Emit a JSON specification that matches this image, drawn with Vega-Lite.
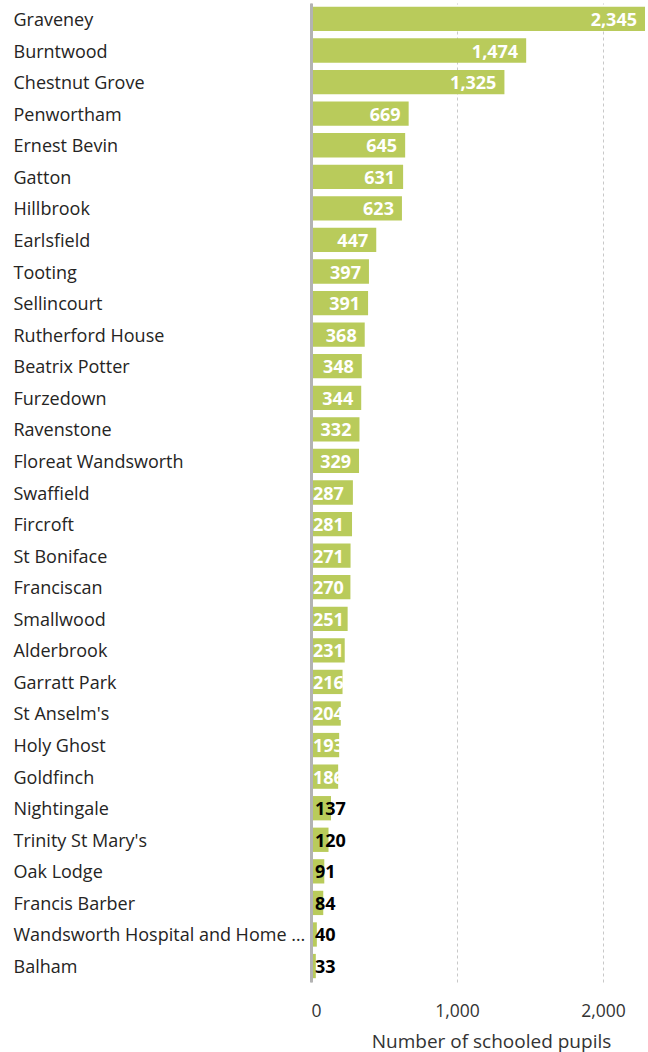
{
  "$schema": "https://vega.github.io/schema/vega-lite/v6.json",
  "width": 334,
  "height": 979,
  "padding": {"left": 13, "top": 3, "right": 0, "bottom": 4},
  "autosize": {"type": "pad"},
  "config": {"view": {"stroke": null}, "font": "Open Sans"},
  "data": {
    "values": [
      {"school": "Graveney", "pupils": 2345},
      {"school": "Burntwood", "pupils": 1474},
      {"school": "Chestnut Grove", "pupils": 1325},
      {"school": "Penwortham", "pupils": 669},
      {"school": "Ernest Bevin", "pupils": 645},
      {"school": "Gatton", "pupils": 631},
      {"school": "Hillbrook", "pupils": 623},
      {"school": "Earlsfield", "pupils": 447},
      {"school": "Tooting", "pupils": 397},
      {"school": "Sellincourt", "pupils": 391},
      {"school": "Rutherford House", "pupils": 368},
      {"school": "Beatrix Potter", "pupils": 348},
      {"school": "Furzedown", "pupils": 344},
      {"school": "Ravenstone", "pupils": 332},
      {"school": "Floreat Wandsworth", "pupils": 329},
      {"school": "Swaffield", "pupils": 287},
      {"school": "Fircroft", "pupils": 281},
      {"school": "St Boniface", "pupils": 271},
      {"school": "Franciscan", "pupils": 270},
      {"school": "Smallwood", "pupils": 251},
      {"school": "Alderbrook", "pupils": 231},
      {"school": "Garratt Park", "pupils": 216},
      {"school": "St Anselm's", "pupils": 204},
      {"school": "Holy Ghost", "pupils": 193},
      {"school": "Goldfinch", "pupils": 186},
      {"school": "Nightingale", "pupils": 137},
      {"school": "Trinity St Mary's", "pupils": 120},
      {"school": "Oak Lodge", "pupils": 91},
      {"school": "Francis Barber", "pupils": 84},
      {"school": "Wandsworth Hospital and Home Tuition Service", "pupils": 40},
      {"school": "Balham", "pupils": 33}
    ]
  },
  "encoding": {
    "y": {
      "field": "school",
      "type": "nominal",
      "sort": null,
      "scale": {"paddingInner": 0.23, "paddingOuter": 0.12},
      "axis": {
        "title": null,
        "labelAlign": "left",
        "labelPadding": 298,
        "labelOffset": 2,
        "ticks": false,
        "tickSize": 0,
        "labelLimit": 296,
        "labelFontSize": 18,
        "labelColor": "#252423",
        "labelFont": "Open Sans",
        "domainColor": "#b3b3b3",
        "domainWidth": 3,
        "zindex": 1
      }
    },
    "x": {
      "field": "pupils",
      "type": "quantitative",
      "title": "Number of schooled pupils",
      "scale": {"domain": [0, 2288], "nice": false, "clamp": true},
      "axis": {
        "values": [0, 1000, 2000],
        "format": ",d",
        "domain": false,
        "ticks": false,
        "grid": true,
        "gridDash": [3, 3],
        "gridColor": "#c8c8c8",
        "labelFontSize": 17.5,
        "labelColor": "#333333",
        "labelPadding": 20,
        "labelFlush": true,
        "titleFontSize": 19,
        "titleColor": "#333333",
        "titleFontWeight": "normal",
        "titlePadding": 13,
        "titleX": 180
      }
    }
  },
  "layer": [
    {"mark": {"type": "bar", "color": "#b9cb5b"}},
    {
      "transform": [{"filter": "datum.pupils >= 290"}],
      "mark": {"type": "text", "align": "right", "baseline": "middle", "dx": -8, "dy": 2, "color": "#ffffff", "fontWeight": "bold", "fontSize": 18},
      "encoding": {"text": {"field": "pupils", "type": "quantitative", "format": ",d"}}
    },
    {
      "transform": [{"filter": "datum.pupils >= 150 && datum.pupils < 290"}],
      "mark": {"type": "text", "align": "left", "baseline": "middle", "dx": 2, "dy": 2, "color": "#ffffff", "fontWeight": "bold", "fontSize": 18},
      "encoding": {
        "x": {"datum": 0, "type": "quantitative"},
        "text": {"field": "pupils", "type": "quantitative", "format": ",d"}
      }
    },
    {
      "transform": [{"filter": "datum.pupils < 150"}],
      "mark": {"type": "text", "align": "left", "baseline": "middle", "dx": 4, "dy": 2, "color": "#000000", "fontWeight": "bold", "fontSize": 18},
      "encoding": {
        "x": {"datum": 0, "type": "quantitative"},
        "text": {"field": "pupils", "type": "quantitative", "format": ",d"}
      }
    }
  ]
}
